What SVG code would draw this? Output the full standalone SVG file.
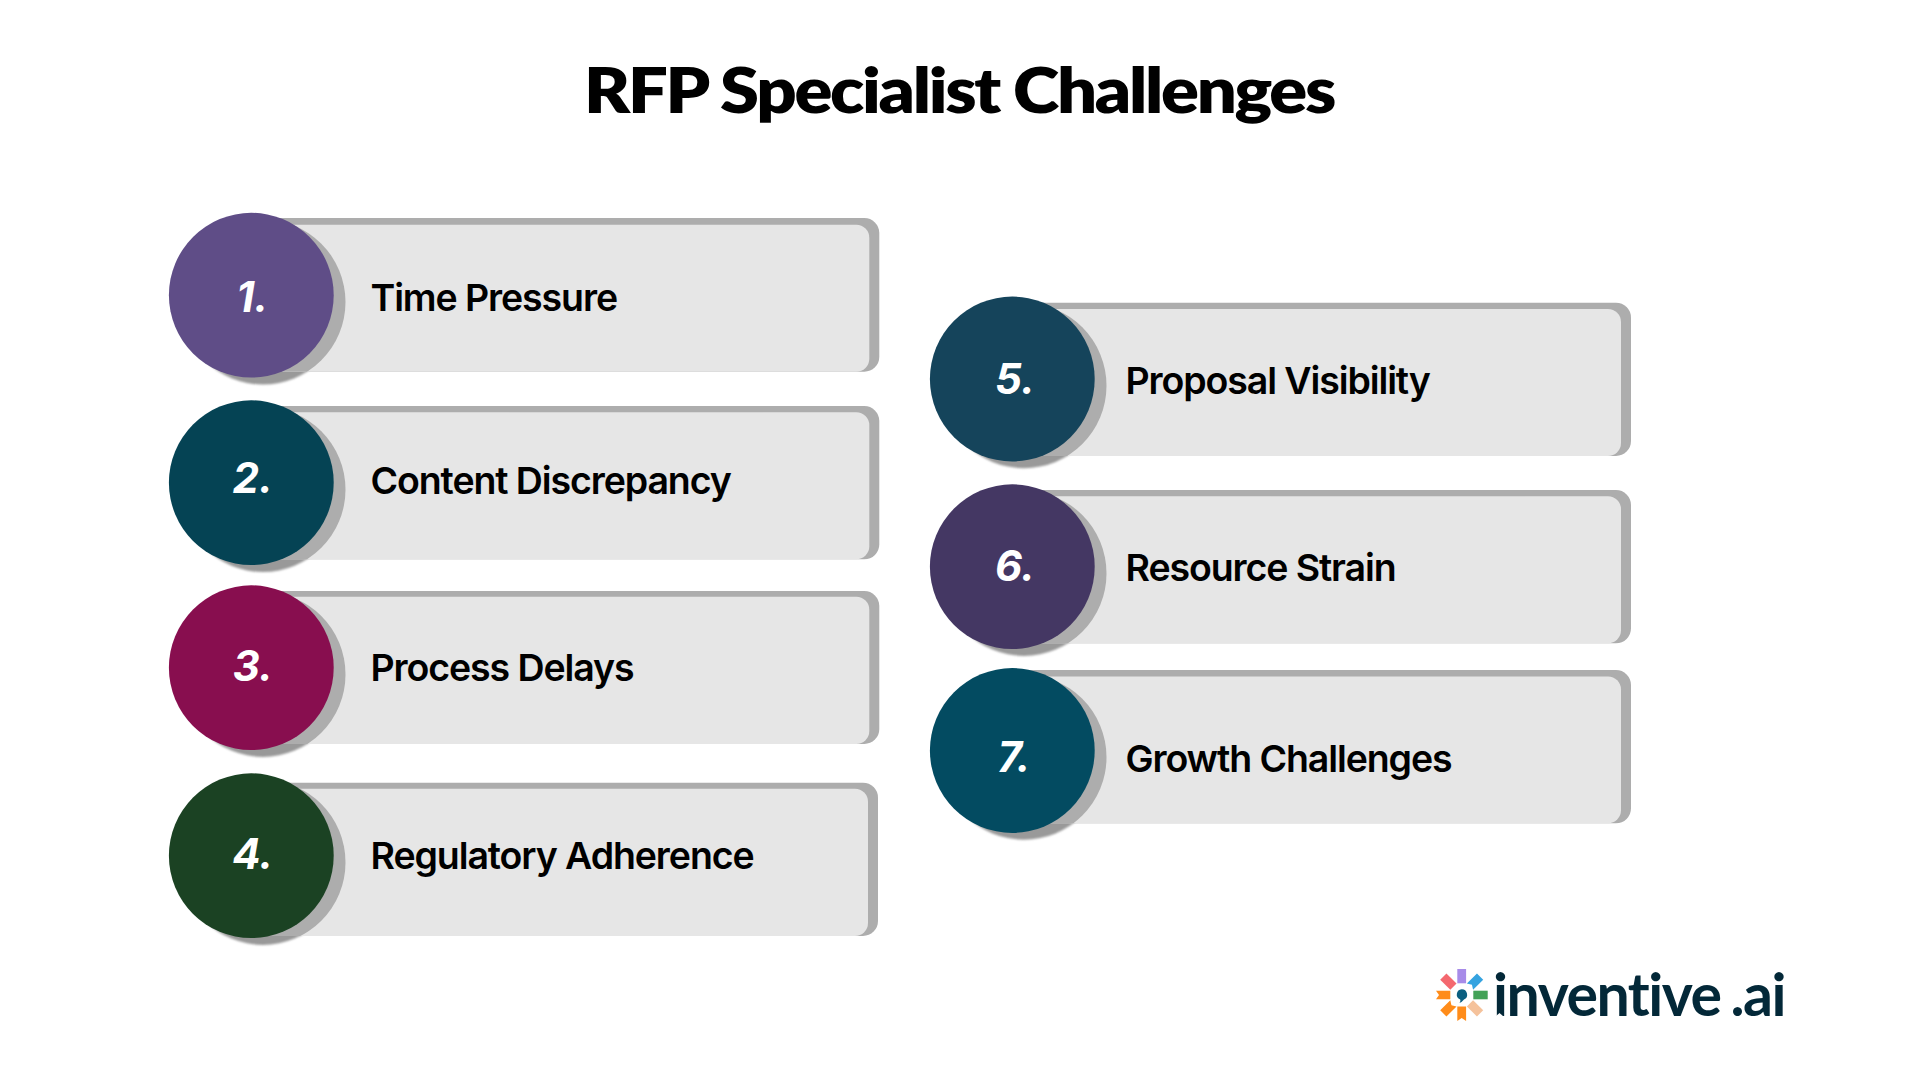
<svg xmlns="http://www.w3.org/2000/svg" width="1920" height="1080" viewBox="0 0 1920 1080">
<style>
.bg{fill:#fff}
.title{font-family:"Lato","Liberation Sans",sans-serif;font-weight:800;font-size:61.5px;fill:#000;letter-spacing:-2px;text-anchor:middle}
.barD{fill:#adadad}
.barL{fill:#e6e6e6}
.shD{fill:#999;filter:url(#soft)}
.shL{fill:#adadad}
.lab{font-family:"Inter","Liberation Sans",sans-serif;font-weight:560;font-size:37.5px;fill:#000;letter-spacing:-1.1px}
.num{font-family:"Inter","Liberation Sans",sans-serif;font-weight:700;font-style:italic;font-size:42px;fill:#fff;text-anchor:middle}
.logo{font-family:"Lato","Noto Sans",sans-serif;font-weight:700;font-size:59px;fill:#032838;letter-spacing:-1.5px;word-spacing:-3px;font-variant-ligatures:none}
</style>
<defs>
<filter id="soft" x="-10%" y="-10%" width="120%" height="120%"><feGaussianBlur stdDeviation="0.9"/></filter>
<clipPath id="c1"><rect x="251" y="218" width="640" height="153.7"/></clipPath>
<clipPath id="c2"><rect x="251" y="406" width="640" height="153.3"/></clipPath>
<clipPath id="c3"><rect x="251" y="591" width="640" height="153"/></clipPath>
<clipPath id="c4"><rect x="251" y="782.7" width="640" height="153.3"/></clipPath>
<clipPath id="c5"><rect x="1012" y="302.7" width="640" height="153.3"/></clipPath>
<clipPath id="c6"><rect x="1012" y="490" width="640" height="153.3"/></clipPath>
<clipPath id="c7"><rect x="1012" y="670" width="640" height="153.3"/></clipPath>
</defs>
<rect class="bg" width="1920" height="1080"/>
<text id="title" class="title" x="959" y="113" textLength="750" lengthAdjust="spacingAndGlyphs">RFP Specialist Challenges</text>

<g id="node-1">
<circle class="shD" cx="263" cy="302" r="82.5"/>
<rect class="barD" x="251" y="218" width="628.3" height="153.7" rx="15"/>
<rect class="barL" x="251" y="224.7" width="618.3" height="147" rx="13"/>
<circle class="shL" cx="263" cy="302" r="82.5" clip-path="url(#c1)"/>
<circle cx="251.3" cy="295.2" r="82.4" fill="#5f4d87"/>
<text class="num" x="252.3" y="311.5">1.</text>
<text class="lab" x="370.5" y="310.7">Time Pressure</text>
</g>
<g id="node-2">
<circle class="shD" cx="263" cy="489.5" r="82.5"/>
<rect class="barD" x="251" y="406" width="628.3" height="153.3" rx="15"/>
<rect class="barL" x="251" y="412.3" width="618.3" height="147" rx="13"/>
<circle class="shL" cx="263" cy="489.5" r="82.5" clip-path="url(#c2)"/>
<circle cx="251.3" cy="482.7" r="82.4" fill="#054354"/>
<text class="num" x="252.8" y="493.3">2.</text>
<text class="lab" x="370.5" y="494">Content Discrepancy</text>
</g>
<g id="node-3">
<circle class="shD" cx="263" cy="674.4" r="82.5"/>
<rect class="barD" x="251" y="591" width="628.3" height="153" rx="15"/>
<rect class="barL" x="251" y="596.8" width="618.3" height="147.2" rx="13"/>
<circle class="shL" cx="263" cy="674.4" r="82.5" clip-path="url(#c3)"/>
<circle cx="251.3" cy="667.7" r="82.4" fill="#880e4f"/>
<text class="num" x="252.8" y="680.7">3.</text>
<text class="lab" x="370.5" y="680.7">Process Delays</text>
</g>
<g id="node-4">
<circle class="shD" cx="263" cy="862.4" r="82.5"/>
<rect class="barD" x="251" y="782.7" width="627" height="153.3" rx="15"/>
<rect class="barL" x="251" y="788.7" width="617" height="147.3" rx="13"/>
<circle class="shL" cx="263" cy="862.4" r="82.5" clip-path="url(#c4)"/>
<circle cx="251.3" cy="855.7" r="82.4" fill="#1b4223"/>
<text class="num" x="252.8" y="869">4.</text>
<text class="lab" x="370.5" y="868.7">Regulatory Adherence</text>
</g>
<g id="node-5">
<circle class="shD" cx="1024" cy="385.7" r="82.5"/>
<rect class="barD" x="1012" y="302.7" width="619" height="153.3" rx="15"/>
<rect class="barL" x="1012" y="309" width="609" height="147" rx="13"/>
<circle class="shL" cx="1024" cy="385.7" r="82.5" clip-path="url(#c5)"/>
<circle cx="1012.3" cy="379" r="82.4" fill="#15445b"/>
<text class="num" x="1015" y="394">5.</text>
<text class="lab" x="1125.5" y="394">Proposal Visibility</text>
</g>
<g id="node-6">
<circle class="shD" cx="1024" cy="573.4" r="82.5"/>
<rect class="barD" x="1012" y="490" width="619" height="153.3" rx="15"/>
<rect class="barL" x="1012" y="496.3" width="609" height="147" rx="13"/>
<circle class="shL" cx="1024" cy="573.4" r="82.5" clip-path="url(#c6)"/>
<circle cx="1012.3" cy="566.7" r="82.4" fill="#443763"/>
<text class="num" x="1015" y="581.3">6.</text>
<text class="lab" x="1125.5" y="581.3">Resource Strain</text>
</g>
<g id="node-7">
<circle class="shD" cx="1024" cy="757.2" r="82.5"/>
<rect class="barD" x="1012" y="670" width="619" height="153.3" rx="15"/>
<rect class="barL" x="1012" y="676.5" width="609" height="146.8" rx="13"/>
<circle class="shL" cx="1024" cy="757.2" r="82.5" clip-path="url(#c7)"/>
<circle cx="1012.3" cy="750.5" r="82.4" fill="#034b61"/>
<text class="num" x="1014" y="772">7.</text>
<text class="lab" x="1125.5" y="771.7">Growth Challenges</text>
</g>
<g id="connectors"/>
<g id="logo">
<rect x="1457.3" y="969" width="8.8" height="14.3" fill="#a78be8"/>
<rect x="1473.3" y="990.7" width="14.4" height="8.6" fill="#43a257"/>
<path d="M1436 990.7H1450.3V999.3H1436L1439 995Z" fill="#ff8c1a"/>
<path d="M1457.3 1006.5H1466.1V1021L1461.7 1018L1457.3 1021Z" fill="#ff8c1a"/>
<rect x="1457.3" y="969" width="8.8" height="14.3" fill="#f4686f" transform="rotate(-45 1461.7 995)"/>
<path d="M1457.3 969H1466.1V983.3L1461.7 980.5L1457.3 983.3Z" fill="#35a3e0" transform="rotate(45 1461.7 995)"/>
<path d="M1457.3 969H1466.1V983.3L1461.7 980.5L1457.3 983.3Z" fill="#ff8c1a" transform="rotate(-135 1461.7 995)"/>
<rect x="1457.3" y="969" width="8.8" height="14.3" fill="#f5c29b" transform="rotate(135 1461.7 995)"/>
<path d="M1461.7 989.2A5.4 5.4 0 0 1 1464 999.5Q1462 1002 1459.5 1003Q1461 1001 1460.2 999.6A5.4 5.4 0 0 1 1461.7 989.2Z" fill="#0b5f80"/>
<text class="logo" x="1493" y="1016" textLength="292" lengthAdjust="spacingAndGlyphs">inventive .ai</text>
<path d="M1495.5 1016.5L1499.5 1013L1503.5 1016.5Z" fill="#fff"/>
</g>
</svg>
